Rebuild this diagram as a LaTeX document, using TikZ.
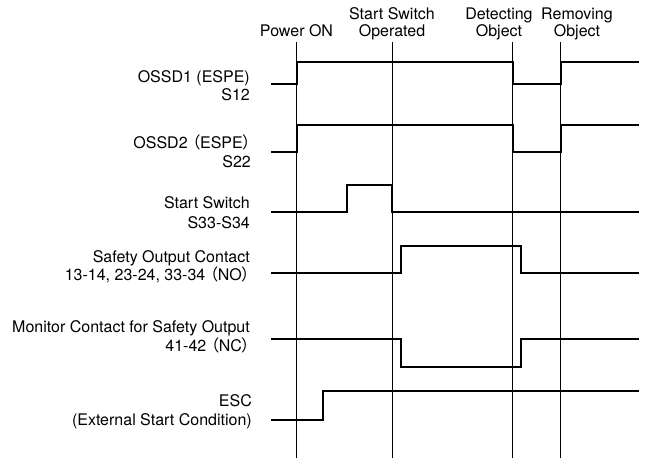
\documentclass[tikz,border=0pt]{standalone}
\usepackage{fontspec}
\setmainfont{TeX Gyre Heros}
\newfontfamily\cjk[RawFeature=+palt]{Noto Sans CJK JP}
\newcommand{\fwl}{\ {\cjk （}}
\newcommand{\fwr}{{\cjk ）}}
\begin{document}
\begin{tikzpicture}[x=1pt,y=-1pt,
  lbl/.style={anchor=base east,inner sep=0pt,font=\fontsize{16}{19}\selectfont},
  head/.style={anchor=base,inner sep=0pt,font=\fontsize{16}{19}\selectfont},
  sig/.style={line width=2pt,line join=miter},
  mark line/.style={line width=0.9pt}]
\useasboundingbox (0,0) rectangle (645,458);
% time markers
\foreach \n/\xx in {pon/296.5, sso/392.5, det/512.5, rem/560.5}{
  \coordinate (\n-top) at (\xx,42);
  \coordinate (\n-bot) at (\xx,458);
  \draw[mark line] (\n-top) -- (\n-bot);
}
% headings
\node[head] (hpon) at (296.5,36.7) {Power ON};
\node[head] (hsso1) at (392,19.3) {Start Switch};
\node[head] (hsso2) at (392,36.7) {Operated};
\node[head] (hdet1) at (499,19.3) {Detecting};
\node[head] (hdet2) at (499,36.7) {Object};
\node[head] (hrem1) at (577,19.3) {Removing};
\node[head] (hrem2) at (577,36.7) {Object};
% labels
\node[lbl] (l1a) at (250,82.5) {OSSD1 (ESPE)};
\node[lbl] (l1b) at (250,100) {S12};
\node[lbl] (l2a) at (251,148.5) {OSSD2\fwl ESPE\fwr};
\node[lbl] (l2b) at (251,167.5) {S22};
\node[lbl] (l3a) at (250,208.5) {Start Switch};
\node[lbl] (l3b) at (250,228.5) {S33-S34};
\node[lbl] (l4a) at (250,262) {Safety Output Contact};
\node[lbl] (l4b) at (250,280.5) {13-14, 23-24, 33-34\fwl NO\fwr};
\node[lbl] (l5a) at (250,332) {Monitor Contact for Safety Output};
\node[lbl] (l5b) at (250,351.5) {41-42\fwl NC\fwr};
\node[lbl] (l6a) at (252,406) {ESC};
\node[lbl] (l6b) at (252,425.5) {(External Start Condition)};
% signals
\draw[sig] (271,84) -| (296.5,62) -| (512.5,84) -| (560.5,62) -- (639,62);
\draw[sig] (271,151.5) -| (296.5,125) -| (512.5,151.5) -| (560.5,125) -- (639,125);
\draw[sig] (271,212) -| (347,185) -| (392,212) -- (639,212);
\draw[sig] (271,272.5) -| (401,246) -| (520.5,272.5) -- (639,272.5);
\draw[sig] (271,339) -| (401,367) -| (520.5,339) -- (639,339);
\draw[sig] (271,420) -| (322.5,391) -- (639,391);
\end{tikzpicture}
\end{document}
